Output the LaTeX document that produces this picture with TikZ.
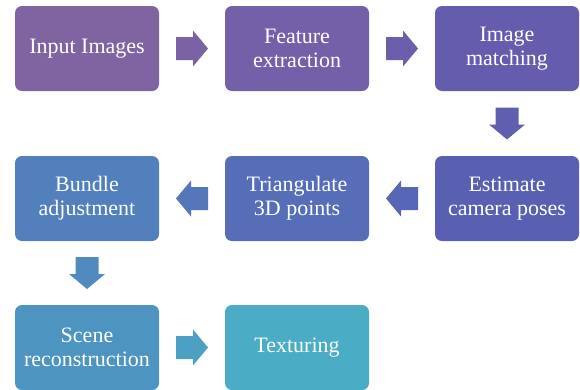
\documentclass[tikz,border=0pt]{standalone}
\usepackage{fontspec}
\setmainfont{Liberation Serif}
\definecolor{c1}{HTML}{8064A2}
\definecolor{c2}{HTML}{7460A8}
\definecolor{c3}{HTML}{645DAD}
\definecolor{c4}{HTML}{5960B2}
\definecolor{c5}{HTML}{556EB7}
\definecolor{c6}{HTML}{5280BC}
\definecolor{c7}{HTML}{4E94C1}
\definecolor{c8}{HTML}{4BACC6}
\begin{document}
\begin{tikzpicture}[x=1pt,y=-1pt,
  stepbox/.style={fill=#1, rounded corners=7pt, minimum width=144pt, minimum height=85pt,
    text=white, align=center, font=\fontsize{22}{24}\selectfont, inner sep=0pt},
  blockarrow/.pic={\fill (-16,-11.5) -- (1,-11.5) -- (1,-18) -- (16,0) -- (1,18) -- (1,11.5) -- (-16,11.5) -- cycle;}
]
\useasboundingbox (0,0) rectangle (580,389);
\node[stepbox=c1] (b1) at (87,48.5) {Input Images};
\node[stepbox=c2] (b2) at (297,48.5) {Feature\\extraction};
\node[stepbox=c3] (b3) at (507,48.5) {Image\\matching};
\node[stepbox=c4] (b4) at (507,198.5) {Estimate\\camera poses};
\node[stepbox=c5] (b5) at (297,198.5) {Triangulate\\3D points};
\node[stepbox=c6] (b6) at (87,198.5) {Bundle\\adjustment};
\node[stepbox=c7] (b7) at (87,347.5) {Scene\\reconstruction};
\node[stepbox=c8] (b8) at (297,347.5) {Texturing};
\path (b1.east) -- coordinate[midway] (m1) (b2.west);
\path (b2.east) -- coordinate[midway] (m2) (b3.west);
\path (b3.south) -- coordinate[midway] (m3) (b4.north);
\path (b4.west) -- coordinate[midway] (m4) (b5.east);
\path (b5.west) -- coordinate[midway] (m5) (b6.east);
\path (b6.south) -- coordinate[midway] (m6) (b7.north);
\path (b7.east) -- coordinate[midway] (m7) (b8.west);
\pic[color=c1!50!c2] at (m1) {blockarrow};
\pic[color=c2!50!c3] at (m2) {blockarrow};
\pic[color=c3!50!c4, rotate=-90] at (m3) {blockarrow};
\pic[color=c4!50!c5, rotate=180] at (m4) {blockarrow};
\pic[color=c5!50!c6, rotate=180] at (m5) {blockarrow};
\pic[color=c6!50!c7, rotate=-90] at (m6) {blockarrow};
\pic[color=c7!50!c8] at (m7) {blockarrow};
\end{tikzpicture}
\end{document}
